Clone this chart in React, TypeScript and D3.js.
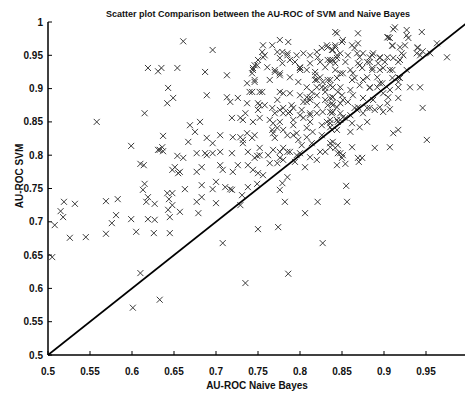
import React from "react";
import * as d3 from "d3";

const TITLE = "Scatter plot Comparison between the AU-ROC of SVM and Naive Bayes";
const X_LABEL = "AU-ROC Naive Bayes";
const Y_LABEL = "AU-ROC SVM";
const X_TICKS = [0.5, 0.55, 0.6, 0.65, 0.7, 0.75, 0.8, 0.85, 0.9, 0.95];
const Y_TICKS = [0.5, 0.55, 0.6, 0.65, 0.7, 0.75, 0.8, 0.85, 0.9, 0.95, 1];

// Naive Bayes AU-ROC (x) and SVM AU-ROC (y), one entry per dataset
const nbAUC = [
  0.505, 0.508, 0.515, 0.518, 0.519, 0.526, 0.532, 0.545, 0.558, 0.569,
  0.569, 0.583, 0.581, 0.576, 0.599, 0.605, 0.599, 0.61, 0.614, 0.615,
  0.613, 0.617, 0.627, 0.619, 0.627, 0.619, 0.626, 0.645, 0.642, 0.648,
  0.644, 0.643, 0.645, 0.648, 0.631, 0.648, 0.651, 0.655, 0.61, 0.654,
  0.619, 0.631, 0.635, 0.654, 0.643, 0.642, 0.649, 0.615, 0.637, 0.636,
  0.633, 0.637, 0.633, 0.601, 0.661, 0.669, 0.675, 0.667,
  0.708, 0.75, 0.774, 0.786, 0.735, 0.806, 0.821, 0.782, 0.776, 0.779,
  0.785, 0.729, 0.7, 0.679, 0.657, 0.677, 0.683, 0.663, 0.683, 0.696,
  0.7, 0.717, 0.711, 0.719, 0.738, 0.749, 0.731, 0.657, 0.677, 0.683,
  0.705, 0.708, 0.72, 0.726, 0.738, 0.744, 0.75, 0.756, 0.749, 0.762,
  0.764, 0.773, 0.78, 0.794, 0.796, 0.806, 0.812, 0.82, 0.677, 0.689,
  0.696, 0.719, 0.661, 0.776, 0.788,
  0.844, 0.854, 0.87, 0.848, 0.855, 0.856, 0.827,
  0.927, 0.913, 0.945, 0.927, 0.844, 0.907, 0.91, 0.919, 0.925, 0.963,
  0.94, 0.946, 0.921, 0.939, 0.955, 0.975, 0.862, 0.865, 0.85, 0.838,
  0.848, 0.868, 0.875, 0.886, 0.895, 0.904, 0.911, 0.91, 0.917, 0.927,
  0.919, 0.917, 0.931, 0.943, 0.86, 0.871, 0.88, 0.886, 0.895, 0.839,
  0.842, 0.851, 0.865, 0.875, 0.883, 0.895, 0.899, 0.905, 0.848, 0.86,
  0.851, 0.836, 0.844, 0.865, 0.88, 0.889, 0.899, 0.907, 0.838, 0.851,
  0.848, 0.871, 0.86, 0.911, 0.917, 0.946, 0.951, 0.839, 0.845, 0.862,
  0.889, 0.907, 0.851, 0.874,
  0.696, 0.687, 0.689, 0.756, 0.767, 0.776, 0.786, 0.755, 0.756, 0.75,
  0.773, 0.785, 0.796, 0.804, 0.82, 0.832, 0.842, 0.788, 0.779, 0.8,
  0.812, 0.824, 0.833, 0.749, 0.744, 0.761, 0.77, 0.8, 0.808, 0.818,
  0.83, 0.713, 0.743, 0.776, 0.788, 0.824, 0.836, 0.818, 0.746, 0.764,
  0.798, 0.808, 0.82, 0.839, 0.74, 0.755, 0.776, 0.788, 0.8, 0.812,
  0.83, 0.845, 0.713, 0.726, 0.717, 0.737, 0.75, 0.758, 0.773, 0.78,
  0.79, 0.808, 0.82, 0.839, 0.75, 0.77, 0.786, 0.802, 0.812, 0.827,
  0.719, 0.732, 0.752, 0.764, 0.776, 0.792, 0.812, 0.832, 0.844, 0.681,
  0.689, 0.696, 0.705, 0.72, 0.732, 0.746, 0.767, 0.77, 0.785, 0.796,
  0.815, 0.826, 0.838, 0.687, 0.705, 0.738, 0.752, 0.768, 0.785, 0.8,
  0.83, 0.842, 0.869, 0.911, 0.904,
  0.758, 0.779, 0.785, 0.794, 0.776, 0.746, 0.744, 0.812, 0.826, 0.833,
  0.842, 0.821, 0.836, 0.844, 0.8, 0.77, 0.776, 0.818, 0.82, 0.827,
  0.833, 0.826, 0.83, 0.746, 0.737, 0.743, 0.752, 0.78, 0.808, 0.812,
  0.804, 0.814, 0.82, 0.83, 0.839, 0.833, 0.752, 0.767, 0.776, 0.78,
  0.788, 0.792, 0.8, 0.812, 0.804, 0.82, 0.836, 0.735, 0.729, 0.744,
  0.768, 0.773, 0.78, 0.792, 0.808, 0.826, 0.836, 0.737, 0.732, 0.729,
  0.743, 0.768, 0.792, 0.798, 0.808, 0.814, 0.78, 0.802, 0.752, 0.776,
  0.746, 0.824, 0.836,
  0.842, 0.905, 0.929, 0.851, 0.869, 0.91, 0.923, 0.94, 0.943, 0.839,
  0.844, 0.857, 0.871, 0.883, 0.887, 0.895, 0.836, 0.842, 0.854, 0.869,
  0.883, 0.893, 0.901, 0.919, 0.863, 0.874, 0.886, 0.899, 0.907, 0.848,
  0.844, 0.862, 0.88, 0.892, 0.898, 0.91, 0.917, 0.836, 0.871, 0.883,
  0.892, 0.917, 0.907, 0.839, 0.85, 0.863, 0.875, 0.887, 0.917, 0.838,
  0.848, 0.857, 0.869, 0.883, 0.895, 0.904, 0.839, 0.848, 0.86, 0.868,
  0.875, 0.836, 0.845, 0.854, 0.862, 0.88, 0.836, 0.844, 0.836, 0.845,
  0.85, 0.869,
];
const svmAUC = [
  0.647, 0.695, 0.716, 0.707, 0.73, 0.676, 0.727, 0.677, 0.85, 0.682,
  0.731, 0.734, 0.71, 0.698, 0.704, 0.685, 0.814, 0.787, 0.785, 0.757,
  0.748, 0.73, 0.727, 0.737, 0.703, 0.704, 0.683, 0.683, 0.743, 0.743,
  0.734, 0.718, 0.707, 0.725, 0.808, 0.778, 0.782, 0.773, 0.623, 0.799,
  0.931, 0.926, 0.931, 0.931, 0.901, 0.878, 0.886, 0.863, 0.829, 0.812,
  0.808, 0.806, 0.583, 0.571, 0.971, 0.845, 0.835, 0.82,
  0.668, 0.689, 0.692, 0.622, 0.608, 0.713, 0.73, 0.73, 0.748, 0.758,
  0.767, 0.725, 0.728, 0.713, 0.715, 0.73, 0.737, 0.749, 0.755, 0.749,
  0.76, 0.749, 0.752, 0.748, 0.752, 0.757, 0.74, 0.775, 0.775, 0.782,
  0.785, 0.778, 0.775, 0.785, 0.785, 0.778, 0.773, 0.77, 0.799, 0.8,
  0.788, 0.788, 0.793, 0.79, 0.8, 0.782, 0.797, 0.793, 0.803, 0.8,
  0.803, 0.803, 0.796, 0.805, 0.805,
  0.785, 0.787, 0.79, 0.803, 0.754, 0.73, 0.668,
  0.988, 0.992, 0.985, 0.98, 0.983, 0.976, 0.964, 0.962, 0.965, 0.968,
  0.962, 0.956, 0.953, 0.953, 0.953, 0.947, 0.965, 0.961, 0.97, 0.958,
  0.953, 0.953, 0.953, 0.95, 0.947, 0.947, 0.946, 0.928, 0.94, 0.928,
  0.916, 0.902, 0.902, 0.902, 0.928, 0.935, 0.94, 0.928, 0.928, 0.943,
  0.928, 0.923, 0.916, 0.913, 0.902, 0.908, 0.893, 0.887, 0.902, 0.898,
  0.883, 0.886, 0.872, 0.871, 0.871, 0.868, 0.865, 0.869, 0.863, 0.857,
  0.853, 0.842, 0.835, 0.833, 0.838, 0.871, 0.823, 0.82, 0.815, 0.812,
  0.811, 0.812, 0.8, 0.796,
  0.958, 0.925, 0.89, 0.965, 0.965, 0.973, 0.97, 0.955, 0.947, 0.943,
  0.955, 0.953, 0.95, 0.953, 0.955, 0.965, 0.962, 0.943, 0.938, 0.932,
  0.938, 0.94, 0.943, 0.935, 0.928, 0.932, 0.928, 0.928, 0.928, 0.925,
  0.932, 0.92, 0.923, 0.92, 0.917, 0.917, 0.913, 0.913, 0.91, 0.913,
  0.91, 0.902, 0.902, 0.902, 0.895, 0.895, 0.895, 0.893, 0.89, 0.887,
  0.895, 0.895, 0.887, 0.886, 0.88, 0.878, 0.878, 0.875, 0.883, 0.871,
  0.875, 0.88, 0.875, 0.875, 0.868, 0.863, 0.863, 0.868, 0.863, 0.865,
  0.856, 0.853, 0.856, 0.853, 0.85, 0.853, 0.85, 0.85, 0.853, 0.85,
  0.826, 0.818, 0.83, 0.827, 0.818, 0.83, 0.838, 0.826, 0.83, 0.833,
  0.835, 0.83, 0.838, 0.803, 0.805, 0.805, 0.811, 0.808, 0.805, 0.803,
  0.805, 0.811, 0.983, 0.989, 0.977,
  0.95, 0.955, 0.95, 0.94, 0.946, 0.935, 0.931, 0.95, 0.961, 0.962,
  0.965, 0.947, 0.943, 0.946, 0.931, 0.925, 0.923, 0.92, 0.913, 0.91,
  0.913, 0.902, 0.901, 0.913, 0.908, 0.895, 0.895, 0.893, 0.887, 0.883,
  0.88, 0.895, 0.89, 0.883, 0.887, 0.875, 0.875, 0.871, 0.868, 0.863,
  0.865, 0.871, 0.86, 0.86, 0.856, 0.863, 0.865, 0.863, 0.856, 0.85,
  0.848, 0.841, 0.838, 0.845, 0.841, 0.845, 0.848, 0.833, 0.823, 0.827,
  0.826, 0.833, 0.83, 0.823, 0.827, 0.818, 0.811, 0.815, 0.8, 0.796,
  0.796, 0.805, 0.812,
  0.985, 0.977, 0.976, 0.973, 0.968, 0.965, 0.95, 0.961, 0.95, 0.958,
  0.95, 0.95, 0.947, 0.947, 0.953, 0.946, 0.94, 0.938, 0.94, 0.938,
  0.94, 0.938, 0.94, 0.943, 0.923, 0.931, 0.931, 0.931, 0.928, 0.923,
  0.916, 0.913, 0.917, 0.917, 0.908, 0.916, 0.917, 0.905, 0.905, 0.901,
  0.902, 0.91, 0.898, 0.887, 0.89, 0.89, 0.886, 0.883, 0.886, 0.878,
  0.878, 0.88, 0.872, 0.871, 0.872, 0.878, 0.865, 0.863, 0.86, 0.868,
  0.863, 0.853, 0.85, 0.856, 0.848, 0.85, 0.842, 0.838, 0.818, 0.803,
  0.796, 0.796,
];

const W = 465;
const H = 393;
const FONT = "'Liberation Sans', Arial, Helvetica, sans-serif";

export default function App() {
  const x = d3.scaleLinear().domain([0.5, 1]).range([48, 468]);
  const y = d3.scaleLinear().domain([0.5, 1]).range([355, 22]);
  const points = nbAUC.map((v, i) => [v, svmAUC[i]] as [number, number]);
  const diag = d3.line<number>().x((d) => x(d)).y((d) => y(d))([0.5, 1]) || "";
  const s = 3;
  return (
    <svg
      width={W}
      height={H}
      style={{ position: "absolute", left: 0, top: 0, background: "#fff" }}
      fontFamily={FONT}
    >
      <rect width={W} height={H} fill="#fff" />
      <text x={258} y={17} textAnchor="middle" fontSize={9} fontWeight="bold" fill="#111">
        {TITLE}
      </text>
      <g stroke="#1a1a1a" strokeWidth={1} opacity={0.85}>
        {points.map(([a, b], i) => {
          const cx = x(a);
          const cy = y(b);
          return (
            <path
              key={i}
              d={`M${cx - s},${cy - s}L${cx + s},${cy + s}M${cx - s},${cy + s}L${cx + s},${cy - s}`}
            />
          );
        })}
      </g>
      <path d={diag} stroke="#000" strokeWidth={1.6} fill="none" />
      <line x1={x(0.5)} x2={x(0.5)} y1={y(1)} y2={y(0.5)} stroke="#000" strokeWidth={1.5} />
      <line x1={x(0.5)} x2={x(1)} y1={y(0.5)} y2={y(0.5)} stroke="#000" strokeWidth={1.5} />
      {X_TICKS.map((t) => (
        <g key={"x" + t}>
          <line x1={x(t)} x2={x(t)} y1={y(0.5)} y2={y(0.5) - 4} stroke="#000" strokeWidth={1} />
          <text x={x(t)} y={375} textAnchor="middle" fontSize={10} fontWeight="bold" fill="#111">
            {String(t)}
          </text>
        </g>
      ))}
      {Y_TICKS.map((t) => (
        <g key={"y" + t}>
          <line x1={x(0.5)} x2={x(0.5) + 4} y1={y(t)} y2={y(t)} stroke="#000" strokeWidth={1} />
          <text x={43} y={y(t) + 3.5} textAnchor="end" fontSize={10} fontWeight="bold" fill="#111">
            {String(t)}
          </text>
        </g>
      ))}
      <text x={257} y={389} textAnchor="middle" fontSize={10} fontWeight="bold" fill="#111">
        {X_LABEL}
      </text>
      <text
        transform={`translate(23,176) rotate(-90)`}
        textAnchor="middle"
        fontSize={10}
        fontWeight="bold"
        fill="#111"
      >
        {Y_LABEL}
      </text>
    </svg>
  );
}
